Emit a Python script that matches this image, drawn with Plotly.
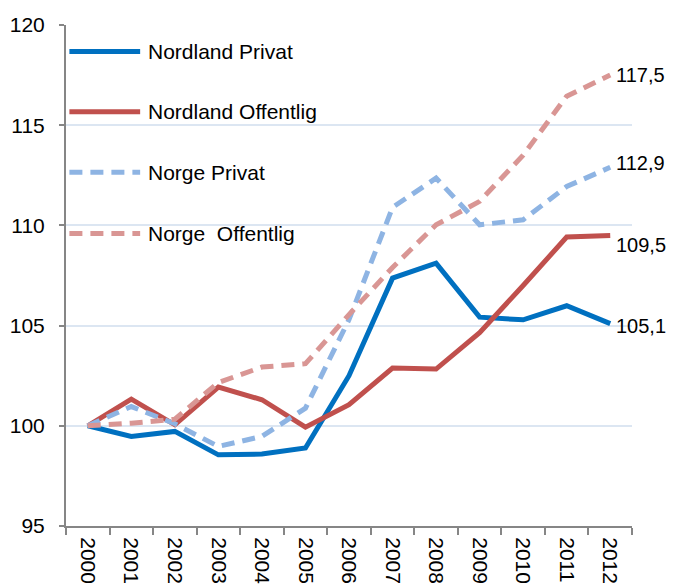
import plotly.graph_objects as go

years = [str(y) for y in range(2000, 2013)]
nordland_privat = [100, 99.47, 99.72, 98.55, 98.59, 98.89, 102.5, 107.37, 108.12, 105.42, 105.29, 105.99, 105.1]
nordland_offentlig = [100, 101.33, 100.05, 101.93, 101.3, 99.93, 101.05, 102.88, 102.83, 104.65, 107.0, 109.42, 109.5]
norge_privat = [100, 100.96, 100.1, 98.97, 99.47, 100.88, 105.3, 110.9, 112.36, 110.03, 110.28, 111.94, 112.9]
norge_offentlig = [100, 100.13, 100.33, 102.16, 102.93, 103.1, 105.55, 107.9, 110.03, 111.2, 113.5, 116.45, 117.5]

series_names = ["Nordland Privat", "Nordland Offentlig", "Norge Privat", "Norge\u00a0 Offentlig"]
end_labels = ["105,1", "109,5", "112,9", "117,5"]
y_ticks = [95, 100, 105, 110, 115, 120]

FONT = "Liberation Sans, Arial, sans-serif"
FS = 21

series = [nordland_privat, nordland_offentlig, norge_privat, norge_offentlig]
colors = ["#0070C0", "#C0504D", "#8EB4E3", "#D99694"]
dashes = ["solid", "solid", "13px,8px", "13px,8px"]
label_shift = [-2, -10, 4, 0]

fig = go.Figure()
for name, vals, c, d in zip(series_names, series, colors, dashes):
    fig.add_trace(go.Scatter(x=years, y=vals, mode="lines", name=name,
                             line=dict(color=c, width=5, dash=d),
                             showlegend=False, hoverinfo="skip"))

# end-value labels (category index of the last year)
last_idx = len(years) - 1
for vals, lab, sh in zip(series, end_labels, label_shift):
    fig.add_annotation(x=last_idx, y=vals[-1], text=lab, showarrow=False,
                       xanchor="left", yanchor="middle", xshift=4, yshift=sh,
                       font=dict(family=FONT, size=20, color="#000000"))

# manual legend (long line samples like the original)
leg_y = [0.947, 0.827, 0.706, 0.584]
for name, c, d, yy in zip(series_names, colors, dashes, leg_y):
    fig.add_shape(type="line", xref="paper", yref="paper",
                  x0=0.006, x1=0.131, y0=yy, y1=yy,
                  line=dict(color=c, width=5, dash=d))
    fig.add_annotation(xref="paper", yref="paper", x=0.141, y=yy, text=name,
                       showarrow=False, xanchor="left", yanchor="middle",
                       font=dict(family=FONT, size=FS, color="#000000"))

# page body adds an 8px offset, so the figure is sized to fill the rest of the window
fig.update_layout(
    width=667, height=578,
    margin=dict(l=58, r=43, t=17, b=60, autoexpand=False),
    paper_bgcolor="white", plot_bgcolor="white",
    font=dict(family=FONT, size=FS, color="#000000"),
    showlegend=False,
)
fig.update_xaxes(
    type="category", range=[-0.5, 12.5], tickangle=90, automargin=False,
    tickson="boundaries", ticks="outside", ticklen=7, tickcolor="#868686", tickwidth=1.5,
    ticklabelstandoff=5,
    showline=True, linecolor="#868686", linewidth=2, showgrid=False,
    tickfont=dict(family=FONT, size=FS, color="#000000"),
)
fig.update_yaxes(
    range=[95, 120], tickvals=y_ticks, ticks="outside", ticklen=5, automargin=False,
    tickcolor="#868686", tickwidth=1.5, ticklabelstandoff=10,
    showline=True, linecolor="#868686", linewidth=2,
    showgrid=True, gridcolor="#DCE6F2", gridwidth=1.5, zeroline=False,
    tickfont=dict(family=FONT, size=FS, color="#000000"),
)

fig.write_html("out.html")
